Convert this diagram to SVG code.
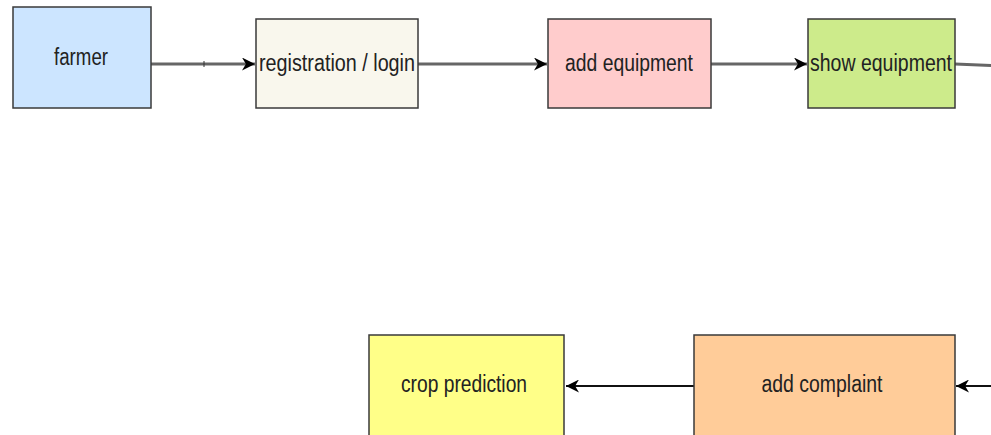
<svg xmlns="http://www.w3.org/2000/svg" width="991" height="435" viewBox="0 0 991 435">
<defs>
<style>
.box{stroke:#3a3a3a;stroke-width:1.5}
.lbl{font-family:"Liberation Sans",Arial,sans-serif;font-size:23px;fill:#222;text-anchor:middle}
.c1{fill:none;stroke:#666;stroke-width:3}
.c2{fill:none;stroke:#111;stroke-width:2}
</style>
<marker id="ah" viewBox="0 0 10 10" refX="10" refY="5" markerWidth="13" markerHeight="13" markerUnits="userSpaceOnUse" orient="auto">
<path d="M0,0 L10,5 L0,10 L3,5 Z" fill="#000"/>
</marker>
</defs>
<rect width="991" height="435" fill="#fff"/>
<g id="connectors">
<path class="c1" d="M151,64 L255,64" marker-end="url(#ah)"/>
<path d="M204,61 L204,67" stroke="#333" stroke-width="1"/>
<path class="c1" d="M418,64 L547,64" marker-end="url(#ah)"/>
<path class="c1" d="M711,64 L807,64" marker-end="url(#ah)"/>
<path class="c1" d="M955,64 L991,65.5"/>
<path class="c2" d="M694,386 L566,386" marker-end="url(#ah)"/>
<path class="c2" d="M991,386 L956,386" marker-end="url(#ah)"/>
</g>
<g id="farmer">
<rect class="box" x="13" y="7" width="138" height="101" fill="#cce5ff"/>
<text class="lbl" x="81" y="65" textLength="54" lengthAdjust="spacingAndGlyphs">farmer</text>
</g>
<g id="registration">
<rect class="box" x="256" y="19" width="162" height="89" fill="#f9f7ed"/>
<text class="lbl" x="337" y="71" textLength="156" lengthAdjust="spacingAndGlyphs">registration / login</text>
</g>
<g id="add-equipment">
<rect class="box" x="548" y="19" width="163" height="89" fill="#ffcccc"/>
<text class="lbl" x="629" y="71" textLength="128" lengthAdjust="spacingAndGlyphs">add equipment</text>
</g>
<g id="show-equipment">
<rect class="box" x="808" y="19" width="147" height="89" fill="#cdeb8b"/>
<text class="lbl" x="881" y="71" textLength="142" lengthAdjust="spacingAndGlyphs">show equipment</text>
</g>
<g id="crop-prediction">
<rect class="box" x="369" y="335" width="195" height="110" fill="#ffff88"/>
<text class="lbl" x="464" y="392" textLength="126" lengthAdjust="spacingAndGlyphs">crop prediction</text>
</g>
<g id="add-complaint">
<rect class="box" x="694" y="335" width="261" height="110" fill="#ffcc99"/>
<text class="lbl" x="822" y="392" textLength="121" lengthAdjust="spacingAndGlyphs">add complaint</text>
</g>
</svg>
